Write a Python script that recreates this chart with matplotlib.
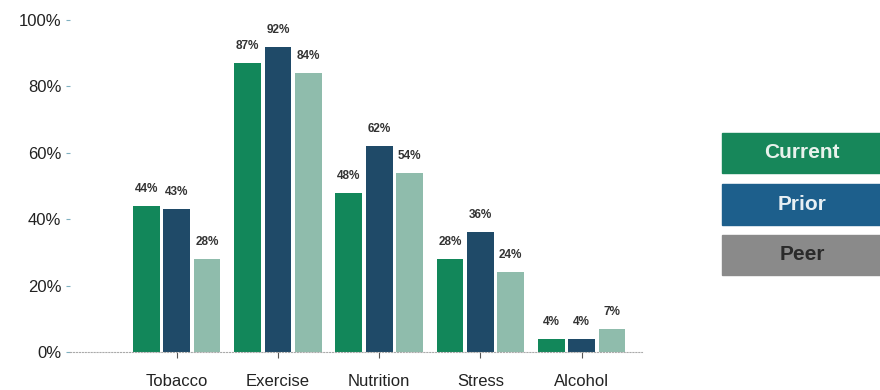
import matplotlib.pyplot as plt
import numpy as np
from matplotlib.patches import Rectangle

plt.rcParams['font.family'] = ['Liberation Sans', 'DejaVu Sans']

categorias = ['Tobacco', 'Exercise', 'Nutrition', 'Stress', 'Alcohol']
series = ['Current', 'Prior', 'Peer']
current = [44, 87, 48, 28, 4]
prior = [43, 92, 62, 36, 4]
peer = [28, 84, 54, 24, 7]

cores = ['#12875a', '#1f4a68', '#8fbcac']
cores_legenda = ['#17875a', '#1d5f8c', '#8a8a8a']
cores_texto = ['#e8f2ec', '#e8f0f4', '#2a2a2a']

fig = plt.figure(figsize=(8.8, 3.9), dpi=100)
ax = fig.add_axes([0.08, 0.0975, 0.65, 0.851])

x = np.arange(len(categorias))
largura = 0.265
for i, valores in enumerate([current, prior, peer]):
    pos = x + (i - 1) * 0.30
    barras = ax.bar(pos, np.array(valores) / 100, largura, color=cores[i])
    for b, v in zip(barras, valores):
        ax.annotate(f'{v}%', (b.get_x() + b.get_width() / 2, b.get_height()),
                    xytext=(0, 8), textcoords='offset points', ha='center', va='bottom',
                    fontsize=8.5, fontweight='bold', color='#333333', annotation_clip=False)

ax.set_xlim(-1.05, 4.6)
ax.set_ylim(0, 1)
ax.set_yticks(np.arange(0, 1.01, 0.2))
ax.set_yticklabels([f'{int(t * 100)}%' for t in np.arange(0, 1.01, 0.2)], fontsize=12, color='#222222')
ax.set_xticks(x)
ax.set_xticklabels(categorias, fontsize=12, color='#222222')
ax.tick_params(axis='y', length=3, color='#7fb0c0')
ax.tick_params(axis='x', length=4, color='#555555', pad=12)
for s in ['top', 'right', 'left']:
    ax.spines[s].set_visible(False)
ax.spines['bottom'].set_color('#aaaaaa')
ax.spines['bottom'].set_linestyle(':')

# legenda em caixas
caixas = [(133, 173), (184, 225), (235, 275)]
for nome, (y0, y1), cf, ct in zip(series, caixas, cores_legenda, cores_texto):
    fig.add_artist(Rectangle((722 / 880, 1 - y1 / 390), 158 / 880, (y1 - y0) / 390,
                             transform=fig.transFigure, color=cf))
    fig.text(802 / 880, 1 - (y0 + y1) / 2 / 390, nome, ha='center', va='center',
             fontsize=15, color=ct, fontweight='bold')

fig.savefig('out.png', dpi=100)
